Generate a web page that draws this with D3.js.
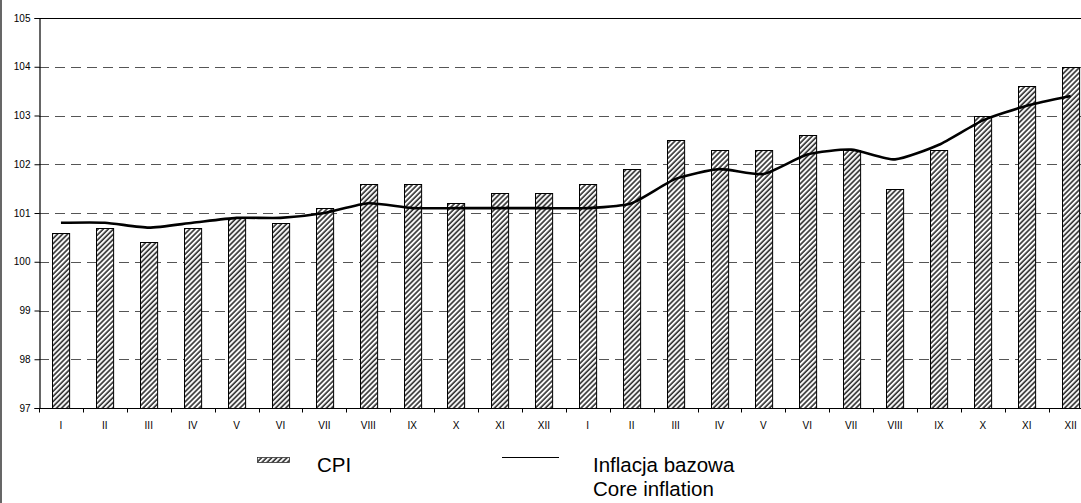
<!DOCTYPE html>
<meta charset="utf-8">
<style>
body { margin: 0; background: #fff; }
svg text { font-family: "Liberation Sans", Arial, sans-serif; fill: #000; }
</style>
<script src="https://d3js.org/d3.v7.min.js"></script>
<div id="chart"></div>
<script>
// data
var months = ["I","II","III","IV","V","VI","VII","VIII","IX","X","XI","XII",
              "I","II","III","IV","V","VI","VII","VIII","IX","X","XI","XII"];
var cpi = [100.6, 100.7, 100.4, 100.7, 100.9, 100.8, 101.1, 101.6, 101.6, 101.2, 101.4, 101.4,
           101.6, 101.9, 102.5, 102.3, 102.3, 102.6, 102.3, 101.5, 102.3, 103.0, 103.6, 104.0];
var core = [100.8, 100.8, 100.7, 100.8, 100.9, 100.9, 101.0, 101.2, 101.1, 101.1, 101.1, 101.1,
            101.1, 101.2, 101.7, 101.9, 101.8, 102.2, 102.3, 102.1, 102.4, 102.9, 103.2, 103.4];
var yTicks = [97, 98, 99, 100, 101, 102, 103, 104, 105];

var W = 1081, H = 503;
var plotLeft = 39, plotTop = 18, plotBottom = 408, step = 43.9;

var svg = d3.select("#chart").append("svg")
    .attr("width", W).attr("height", H);

// hatch pattern for the bars
var defs = svg.append("defs");
var pat = defs.append("pattern")
    .attr("id", "hatch")
    .attr("patternUnits", "userSpaceOnUse")
    .attr("width", 3.6).attr("height", 3.6)
    .attr("patternTransform", "rotate(45)");
pat.append("rect").attr("width", 3.6).attr("height", 3.6).attr("fill", "#fafafa");
pat.append("line")
    .attr("x1", 1).attr("y1", 0).attr("x2", 1).attr("y2", 3.6)
    .attr("stroke", "#222").attr("stroke-width", 1.5);

// outer frame (only left edge visible)
svg.append("line")
    .attr("x1", 1).attr("x2", 1).attr("y1", 0).attr("y2", H)
    .attr("stroke", "#000").attr("stroke-width", 1.2);

var x = d3.scaleBand()
    .domain(d3.range(months.length))
    .range([plotLeft, plotLeft + step * months.length])
    .paddingInner(0.61)
    .paddingOuter(0.305);

var y = d3.scaleLinear()
    .domain([97, 105])
    .range([plotBottom, plotTop]);

// grid lines
svg.append("g")
  .selectAll("line")
  .data(yTicks.filter(function(d) { return d > 97 && d < 105; }))
  .enter().append("line")
    .attr("x1", plotLeft).attr("x2", W)
    .attr("y1", function(d) { return Math.round(y(d)) + 0.5; })
    .attr("y2", function(d) { return Math.round(y(d)) + 0.5; })
    .attr("stroke", "#555")
    .attr("stroke-width", 1)
    .attr("stroke-dasharray", "10,6");

// top border of plot area
svg.append("line")
    .attr("x1", plotLeft).attr("x2", W)
    .attr("y1", y(105) + 0.5).attr("y2", y(105) + 0.5)
    .attr("stroke", "#000");

// bars
svg.append("g")
  .selectAll("rect")
  .data(cpi)
  .enter().append("rect")
    .attr("x", function(d, i) { return Math.round(x(i)) + 0.5; })
    .attr("y", function(d) { return Math.round(y(d)) + 0.5; })
    .attr("width", x.bandwidth())
    .attr("height", function(d) { return Math.round(y(97)) - Math.round(y(d)); })
    .attr("fill", "url(#hatch)")
    .attr("stroke", "#000")
    .attr("stroke-width", 1);

// core inflation line
var line = d3.line()
    .x(function(d, i) { return x(i) + x.bandwidth() / 2; })
    .y(function(d) { return y(d); })
    .curve(d3.curveCardinal.tension(0.4));

svg.append("path")
    .datum(core)
    .attr("d", line)
    .attr("fill", "none")
    .attr("stroke", "#000")
    .attr("stroke-width", 2.6);

// y axis
var yAxis = d3.axisLeft(y)
    .tickValues(yTicks)
    .tickSize(5)
    .tickPadding(4)
    .tickFormat(d3.format("d"));
var gy = svg.append("g")
    .attr("transform", "translate(" + (plotLeft + 0.5) + ",0)")
    .call(yAxis);
gy.select(".domain").attr("stroke", "#000").attr("stroke-width", 1.2);
gy.selectAll("text").style("font-size", "10px");

// x axis with ticks between categories
var gx = svg.append("g")
    .attr("transform", "translate(0," + (plotBottom + 0.5) + ")");
gx.append("line")
    .attr("x1", plotLeft).attr("x2", W)
    .attr("stroke", "#000").attr("stroke-width", 1.2);
gx.selectAll(".tk")
  .data(d3.range(months.length + 1))
  .enter().append("line")
    .attr("class", "tk")
    .attr("x1", function(i) { return Math.round(plotLeft + i * x.step()) + 0.5; })
    .attr("x2", function(i) { return Math.round(plotLeft + i * x.step()) + 0.5; })
    .attr("y1", 0).attr("y2", 4)
    .attr("stroke", "#000");
gx.selectAll(".lb")
  .data(months)
  .enter().append("text")
    .attr("class", "lb")
    .attr("x", function(d, i) { return x(i) + x.bandwidth() / 2; })
    .attr("y", 20)
    .attr("text-anchor", "middle")
    .style("font-size", "10px")
    .text(function(d) { return d; });

// legend
var lg = svg.append("g");
lg.append("rect")
    .attr("x", 257.5).attr("y", 457.5)
    .attr("width", 32).attr("height", 5)
    .attr("fill", "url(#hatch)")
    .attr("stroke", "#333").attr("stroke-width", 0.8);
lg.append("text")
    .attr("x", 317).attr("y", 472)
    .style("font-size", "20.5px")
    .text("CPI");
lg.append("line")
    .attr("x1", 502).attr("x2", 559)
    .attr("y1", 457.5).attr("y2", 457.5)
    .attr("stroke", "#000").attr("stroke-width", 1);
lg.append("text")
    .attr("x", 593).attr("y", 472)
    .style("font-size", "20.5px")
    .text("Inflacja bazowa");
lg.append("text")
    .attr("x", 593).attr("y", 496)
    .style("font-size", "20.5px")
    .text("Core inflation");
</script>
